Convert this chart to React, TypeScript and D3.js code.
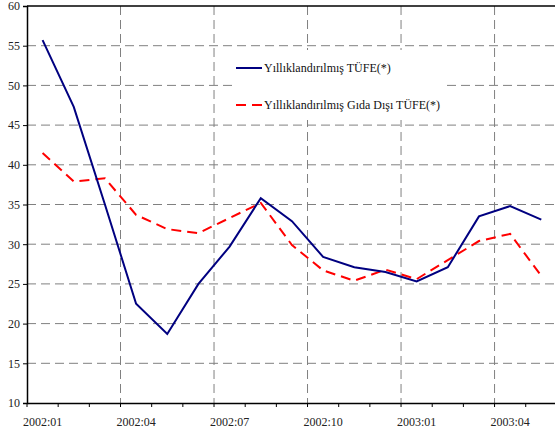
import React, { useEffect, useRef } from "react";
import * as d3 from "d3";

const months = [
  "2002:01", "2002:02", "2002:03", "2002:04", "2002:05", "2002:06",
  "2002:07", "2002:08", "2002:09", "2002:10", "2002:11", "2002:12",
  "2003:01", "2003:02", "2003:03", "2003:04", "2003:05",
];
const tufe = [55.7, 47.3, 35.0, 22.5, 18.7, 25.0, 29.7, 35.8, 32.9, 28.4, 27.1, 26.5, 25.3, 27.1, 33.5, 34.8, 33.1];
const gidaDisi = [41.5, 37.9, 38.3, 33.7, 31.9, 31.4, 33.3, 35.2, 29.9, 26.7, 25.4, 26.8, 25.6, 28.0, 30.4, 31.3, 26.0];
const yTicks = [10, 15, 20, 25, 30, 35, 40, 45, 50, 55, 60];
const labelEvery = 3;
const seriesNames = ["Yıllıklandırılmış TÜFE(*)", "Yıllıklandırılmış Gıda Dışı TÜFE(*)"];

export default function App() {
  const ref = useRef<SVGSVGElement>(null);

  useEffect(() => {
    const left = 27,
      top = 6,
      bottom = 403,
      step = 31.17;
    const right = left + months.length * step;
    const font = "Liberation Serif, DejaVu Serif, serif";

    const svg = d3.select(ref.current);
    svg.selectAll("*").remove();

    const x = d3.scaleBand().domain(months).range([left, right]).padding(0);
    const y = d3.scaleLinear().domain([10, 60]).range([bottom, top]);
    const cx = (i: number) => (x(months[i]) as number) + x.bandwidth() / 2;

    // horizontal grid
    svg
      .append("g")
      .selectAll("line")
      .data(yTicks.filter((t) => t > 10 && t < 60))
      .join("line")
      .attr("x1", left)
      .attr("x2", right)
      .attr("y1", (d) => y(d))
      .attr("y2", (d) => y(d))
      .attr("stroke", "#808080")
      .attr("stroke-dasharray", "9,5");

    // vertical grid at every 3rd month boundary
    const gridIdx = months.map((_, i) => i).filter((i) => i > 0 && i % labelEvery === 0);
    svg
      .append("g")
      .selectAll("line")
      .data(gridIdx)
      .join("line")
      .attr("x1", (i) => x(months[i]) as number)
      .attr("x2", (i) => x(months[i]) as number)
      .attr("y1", top)
      .attr("y2", bottom)
      .attr("stroke", "#808080")
      .attr("stroke-dasharray", "9,5");

    // legend background
    svg
      .append("rect")
      .attr("x", 233)
      .attr("y", 50)
      .attr("width", 213)
      .attr("height", 70)
      .attr("fill", "white");

    // axes
    svg
      .append("line")
      .attr("x1", left)
      .attr("x2", right)
      .attr("y1", top)
      .attr("y2", top)
      .attr("stroke", "black")
      .attr("stroke-width", 1.5);

    const xa = svg
      .append("g")
      .attr("transform", `translate(0,${bottom})`)
      .call(
        d3
          .axisBottom(x)
          .tickSize(0)
          .tickFormat((d, i) => (i % labelEvery === 0 ? (d as string) : ""))
      );
    xa.attr("font-family", null);
    xa.select(".domain").attr("stroke", "black").attr("stroke-width", 1.5);
    xa.selectAll("text")
      .attr("dy", 0)
      .attr("y", 23)
      .style("font-family", font)
      .style("font-size", "12px")
      .attr("fill", "#222");
    xa.selectAll(".tick line").remove();
    xa.selectAll(".mtick")
      .data(d3.range(months.length + 1))
      .join("line")
      .attr("x1", (i) => left + i * x.step())
      .attr("x2", (i) => left + i * x.step())
      .attr("y1", 0)
      .attr("y2", 4)
      .attr("stroke", "black");

    const ya = svg
      .append("g")
      .attr("transform", `translate(${left},0)`)
      .call(d3.axisLeft(y).tickValues(yTicks).tickSize(4).tickPadding(3));
    ya.attr("font-family", null);
    ya.select(".domain").attr("stroke", "black").attr("stroke-width", 1.5);
    ya.selectAll(".tick line").attr("stroke", "black");
    ya.selectAll("text")
      .style("font-family", font)
      .style("font-size", "12px")
      .attr("fill", "#222");

    const line = d3
      .line<number>()
      .x((_, i) => cx(i))
      .y((d) => y(d));

    svg
      .append("path")
      .datum(gidaDisi)
      .attr("fill", "none")
      .attr("stroke", "#ff0000")
      .attr("stroke-width", 2)
      .attr("stroke-dasharray", "10,6")
      .attr("d", line);

    svg
      .append("path")
      .datum(tufe)
      .attr("fill", "none")
      .attr("stroke", "#000080")
      .attr("stroke-width", 2)
      .attr("d", line);

    // legend
    const lg = svg.append("g");
    [0, 1].forEach((k) => {
      const ly = 68 + k * 37;
      lg.append("line")
        .attr("x1", 236)
        .attr("x2", 262)
        .attr("y1", ly)
        .attr("y2", ly)
        .attr("stroke", k === 0 ? "#000080" : "#ff0000")
        .attr("stroke-width", 2)
        .attr("stroke-dasharray", k === 0 ? null : "10,6");
      lg.append("text")
        .attr("x", 264)
        .attr("y", ly + 4)
        .style("font-family", font)
        .style("font-size", "12px")
        .attr("fill", "#111")
        .text(seriesNames[k]);
    });
  }, []);

  return (
    <svg
      ref={ref}
      width={555}
      height={430}
      style={{ position: "absolute", left: 0, top: 0, background: "white" }}
    />
  );
}
